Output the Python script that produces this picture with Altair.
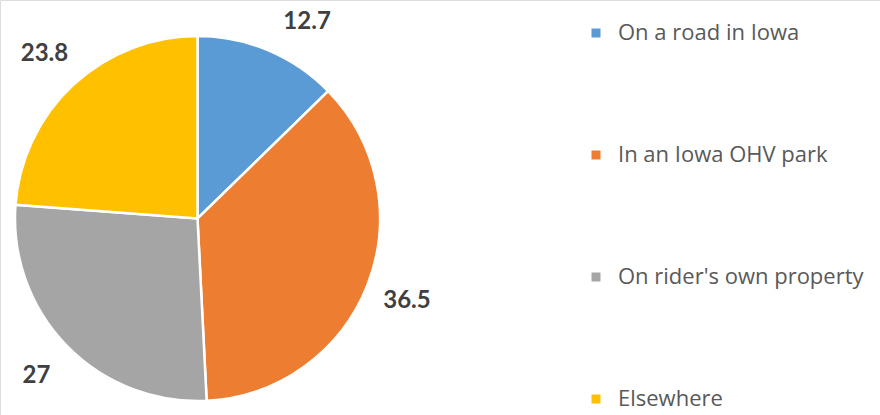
import altair as alt
import pandas as pd

categories = ["On a road in Iowa", "In an Iowa OHV park", "On rider's own property", "Elsewhere"]
values = [12.7, 36.5, 27, 23.8]
labels = ["12.7", "36.5", "27", "23.8"]
colors = ["#5B9BD5", "#ED7D31", "#A5A5A5", "#FFC000"]

df = pd.DataFrame({
    "category": categories,
    "value": values,
    "label": labels,
    "idx": list(range(len(categories))),
})

CX, CY, R = 197.5, 218.5, 182.5
LR = 225      # label ring radius (outside end)
YMIN = 22     # keep labels inside the chart area (slide along ring)

base = alt.Chart(df)

pie = base.mark_arc(stroke="white", strokeWidth=2.5).encode(
    theta=alt.Theta("value:Q", stack=True),
    order=alt.Order("idx:Q", sort="ascending"),
    x=alt.value(CX),
    y=alt.value(CY),
    radius=alt.value(R),
    color=alt.Color(
        "category:N",
        scale=alt.Scale(domain=categories, range=colors),
        sort=categories,
        legend=alt.Legend(
            title=None,
            orient="none",
            legendX=585,
            legendY=22,
            symbolType="square",
            symbolSize=81,
            symbolStrokeWidth=0,
            symbolOpacity=1,
            labelFont="Open Sans",
            labelFontSize=22,
            labelColor="#595959",
            labelOffset=11,
            rowPadding=100,
            padding=0,
            labelLimit=400,
        ),
    ),
)

text = base.transform_joinaggregate(
    total="sum(value)"
).transform_window(
    cum="sum(value)", sort=[alt.SortField("idx")], frame=[None, 0]
).transform_calculate(
    mid="2*PI*(datum.cum - datum.value/2)/datum.total"
).transform_calculate(
    lx0=f"{CX} + {LR}*sin(datum.mid)",
    ly0=f"{CY} - {LR}*cos(datum.mid)",
).transform_calculate(
    ly=f"max(datum.ly0, {YMIN})",
    lx=(f"datum.ly0 < {YMIN} ? {CX} + (sin(datum.mid) >= 0 ? 1 : -1)"
        f"*sqrt({LR}*{LR} - pow({YMIN}-{CY}, 2)) : datum.lx0"),
).mark_text(
    font="Lato", fontSize=24, fontWeight="bold", color="#404040",
    align="center", baseline="middle",
).encode(
    x=alt.X("lx:Q", scale=None, axis=None),
    y=alt.Y("ly:Q", scale=None, axis=None),
    text="label:N",
)

chart = alt.layer(pie, text).properties(
    width=880, height=415, padding=0,
    autosize=alt.AutoSizeParams(type="none"),
).configure_view(stroke=None).configure(background="white")

chart.save("out.html", embed_options={"renderer": "svg", "actions": False})
